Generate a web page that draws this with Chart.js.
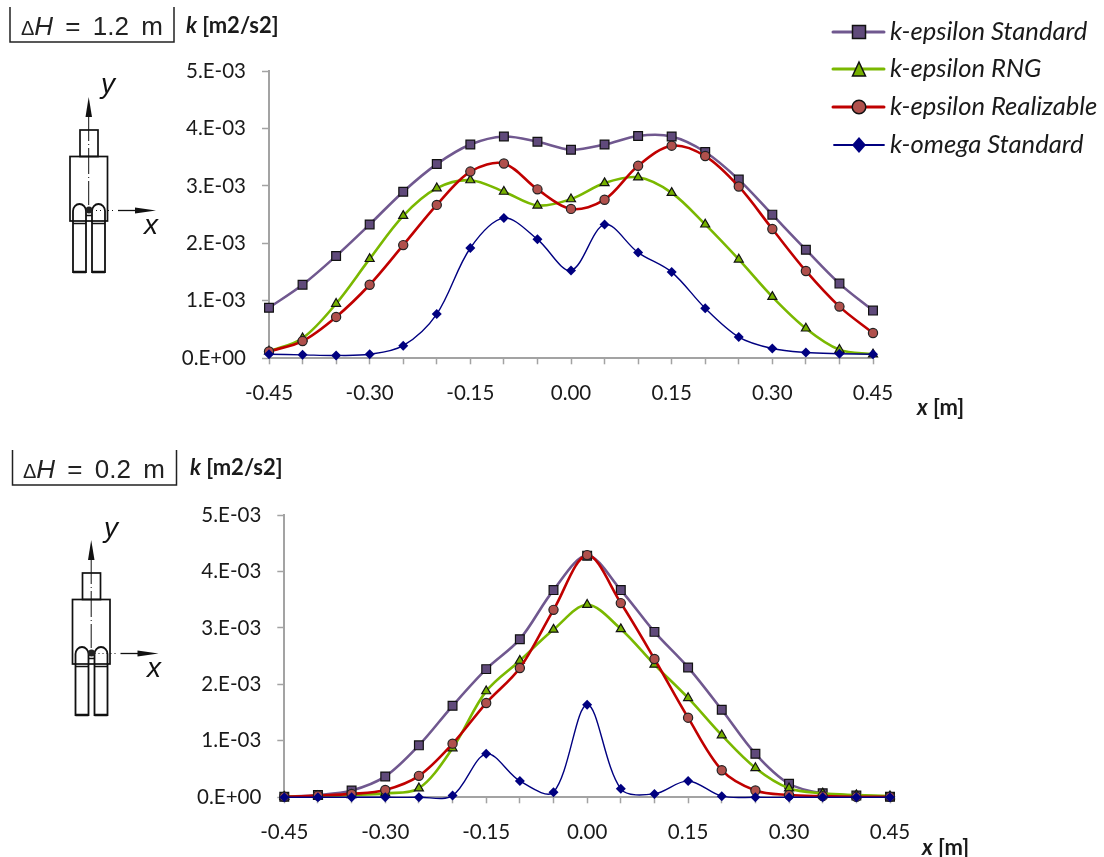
<!DOCTYPE html>
<html><head><meta charset="utf-8">
<style>
html,body{margin:0;padding:0;background:#fff;width:1104px;height:857px;overflow:hidden}
canvas{position:absolute;left:0}
.t{position:absolute;white-space:nowrap;color:#1a1a1a}
.ax{font:bold 22px Lato,sans-serif}
.ax i{font-style:italic}
.lg{font:italic 25.6px Lato,sans-serif;left:890px;color:#1a1a1a}
.dh{font:26px "Liberation Sans",sans-serif;color:#222;word-spacing:5px}
.dh small{font-size:20px}
.dh i{font-style:italic}
.v{font:italic 28px "Liberation Sans",sans-serif;color:#111}
svg{position:absolute;left:0;top:0}
</style>
<script src="https://cdn.jsdelivr.net/npm/chart.js@4/dist/chart.umd.min.js"></script>
</head><body>
<canvas id="c1" style="top:0"></canvas>
<canvas id="c2" style="top:430px"></canvas>

<svg width="1104" height="857" fill="none" stroke="#111">
<defs>
<g id="body">
 <path d="M10 7V42H174V7" stroke="#222" stroke-width="1.5"/>
 <rect x="80" y="130" width="18" height="26.500" stroke-width="1.700"/>
 <rect x="70" y="156.500" width="37.500" height="64.500" stroke-width="1.700"/>
 <path d="M73 272V211A6.500 7 0 0 1 86 211V272Z M92 272V211A6.500 7 0 0 1 105 211V272Z" stroke-width="1.800"/>
 <path d="M73 223.500H86M92 223.500H105M86 215.500H92" stroke-width="1.500"/>
 <path d="M73 272H86M92 272H105" stroke-width="2.400"/>
 <path d="M88.700 115V205" stroke-width="1" stroke-dasharray="26 3 1 3"/>
 <path d="M88.700 97L85.500 117H92Z" fill="#111" stroke="none"/>
 <path d="M92 210.500H116" stroke-width="1" stroke-dasharray="1 3"/>
 <path d="M118 210.500H140" stroke-width="1.300"/>
 <path d="M156 210.500L135 207.500V213.500Z" fill="#111" stroke="none"/>
 <circle cx="89" cy="210" r="3.500" fill="#222" stroke="none"/>
</g>
</defs>
<use href="#body"/>
<use href="#body" x="2.500" y="443"/>
<!-- legend keys -->
<g stroke-linecap="round">
 <path d="M833 32H884" stroke="#70588f" stroke-width="3"/>
 <rect x="852.500" y="25.500" width="13" height="13" fill="#604a7b" stroke="#111" stroke-width="1.500"/>
 <path d="M833 69H884" stroke="#7ab800" stroke-width="3"/>
 <path d="M859 62L865.500 76H852.500Z" fill="#76b000" stroke="#111" stroke-width="1.500"/>
 <path d="M833 107H884" stroke="#c00000" stroke-width="3"/>
 <circle cx="859" cy="107" r="6.800" fill="#b0504c" stroke="#111" stroke-width="1.500"/>
 <path d="M834 145H884" stroke="#000080" stroke-width="1.800"/>
 <path d="M859 137L866 145L859 153L852 145Z" fill="#000080" stroke="none"/>
</g>
</svg>

<div class="t dh" style="left:21px;top:11px"><small>Δ</small><i>H</i> = 1.2 m</div>
<div class="t dh" style="left:23px;top:454px"><small>Δ</small><i>H</i> = 0.2 m</div>
<div class="t v" style="left:101px;top:68px">y</div>
<div class="t v" style="left:144px;top:209px">x</div>
<div class="t v" style="left:104px;top:512px">y</div>
<div class="t v" style="left:147px;top:652px">x</div>
<div class="t ax" style="left:186px;top:10.500px"><i>k</i> [m2/s2]</div>
<div class="t ax" style="left:190px;top:452.500px"><i>k</i> [m2/s2]</div>
<div class="t ax" style="left:917px;top:393px"><i>x</i> [m]</div>
<div class="t ax" style="left:922px;top:833px"><i>x</i> [m]</div>
<div class="t lg" style="top:15px">k-epsilon Standard</div>
<div class="t lg" style="top:52px">k-epsilon RNG</div>
<div class="t lg" style="top:90px">k-epsilon Realizable</div>
<div class="t lg" style="top:128px">k-omega Standard</div>

<script>
const xValues = [-0.45,-0.40,-0.35,-0.30,-0.25,-0.20,-0.15,-0.10,-0.05,0,0.05,0.10,0.15,0.20,0.25,0.30,0.35,0.40,0.45];
const seriesNames = ['k-epsilon Standard','k-epsilon RNG','k-epsilon Realizable','k-omega Standard'];

// ΔH = 1.2 m
const topStandard   = [.00088,.00128,.00178,.00233,.00290,.00338,.00372,.00386,.00377,.00363,.00372,.00387,.00386,.00359,.00311,.00250,.00189,.00130,.00083];
const topRNG        = [.00012,.00035,.00095,.00173,.00248,.00296,.00310,.00290,.00266,.00277,.00305,.00315,.00288,.00233,.00172,.00107,.00052,.00015,.00007];
const topRealizable = [.00012,.00030,.00072,.00128,.00197,.00267,.00325,.00339,.00294,.00260,.00276,.00335,.00370,.00352,.00299,.00225,.00152,.00090,.00044];
const topOmega      = [.00007,.00006,.00005,.00007,.00022,.00077,.00192,.00244,.00207,.00153,.00233,.00184,.00150,.00087,.00037,.00017,.00010,.00008,.00007];

// ΔH = 0.2 m
const botStandard   = [.00001,.00004,.00012,.00037,.00092,.00162,.00227,.00280,.00367,.00428,.00367,.00293,.00230,.00155,.00077,.00024,.00007,.00003,.00001];
const botRNG        = [.00001,.00002,.00004,.00007,.00016,.00087,.00188,.00242,.00297,.00341,.00298,.00235,.00176,.00110,.00052,.00016,.00007,.00004,.00002];
const botRealizable = [.00001,.00003,.00006,.00013,.00038,.00095,.00167,.00229,.00332,.00429,.00344,.00245,.00141,.00048,.00012,.00004,.00002,.00001,.00001];
const botOmega      = [0,0,0,0,0,.00003,.00077,.00029,.00009,.00164,.00015,.00006,.00029,.00002,0,0,0,0,0];

const yTickLabels = ['0.E+00','1.E-03','2.E-03','3.E-03','4.E-03','5.E-03'];
const AXIS = '#a3a3a3', FONT = 'Lato, sans-serif';

const styles = [
 {borderColor:'#70588f',borderWidth:2.6,pointStyle:'rect',pointRadius:6.2,pointBackgroundColor:'#604a7b',pointBorderColor:'#111',pointBorderWidth:1.2,order:4},
 {borderColor:'#7ab800',borderWidth:2.6,pointStyle:'triangle',pointRadius:5.2,pointBackgroundColor:'#76b000',pointBorderColor:'#111',pointBorderWidth:1.2,order:3},
 {borderColor:'#c00000',borderWidth:2.6,pointStyle:'circle',pointRadius:4.6,pointBackgroundColor:'#b0504c',pointBorderColor:'#222',pointBorderWidth:1.2,order:2},
 {borderColor:'#000080',borderWidth:1.4,pointStyle:'rectRot',pointRadius:5,pointBackgroundColor:'#000080',pointBorderColor:'#000080',pointBorderWidth:0,order:1}
];

function draw(id, h, box, series){
  const cv = document.getElementById(id);
  cv.width = 1104; cv.height = h;
  cv.style.width = '1104px'; cv.style.height = h+'px';
  new Chart(cv, {
    type:'line',
    data:{datasets: series.map((vals,i)=>Object.assign({
      label:seriesNames[i], data:vals.map((v,j)=>({x:xValues[j],y:v})),
      tension:0.33, clip:false, fill:false
    }, styles[i]))},
    options:{
      responsive:false, animation:false, events:[],
      elements:{line:{capBezierPoints:false}},
      layout:{padding:{left:0,top:box.top,right:1104-box.right,bottom:0}},
      plugins:{legend:{display:false},tooltip:{enabled:false},title:{display:false}},
      scales:{
        x:{type:'linear',min:-0.45,max:0.45,
           afterFit(s){s.height=h-box.bottom;},
           border:{color:AXIS,width:2},
           grid:{drawOnChartArea:false,drawTicks:true,tickLength:6,tickColor:AXIS,tickWidth:1.5},
           afterBuildTicks(s){s.ticks=xValues.map(v=>({value:v}));},
           ticks:{autoSkip:false,maxRotation:0,padding:box.xpad,color:'#1a1a1a',font:{family:FONT,size:20.5},
             callback:(v,i)=> i%3===0 ? (Math.abs(v)<1e-9?'0.00':v.toFixed(2)) : ''}},
        y:{type:'linear',min:0,max:0.005,
           afterFit(s){s.width=box.left;},
           border:{color:AXIS,width:2},
           grid:{drawOnChartArea:false,drawTicks:true,tickLength:7,tickColor:AXIS,tickWidth:1.5},
           ticks:{stepSize:0.001,padding:box.ypad,color:'#1a1a1a',font:{family:FONT,size:20.5},
             callback:(v,i)=> yTickLabels[i]}}
      }
    }
  });
}
draw('c1',430,{left:269,right:873,top:71,bottom:358.3,xpad:17,ypad:16},[topStandard,topRNG,topRealizable,topOmega]);
draw('c2',427,{left:284.3,right:890,top:85,bottom:367.3,xpad:17,ypad:16},[botStandard,botRNG,botRealizable,botOmega]);
</script>
</body></html>
